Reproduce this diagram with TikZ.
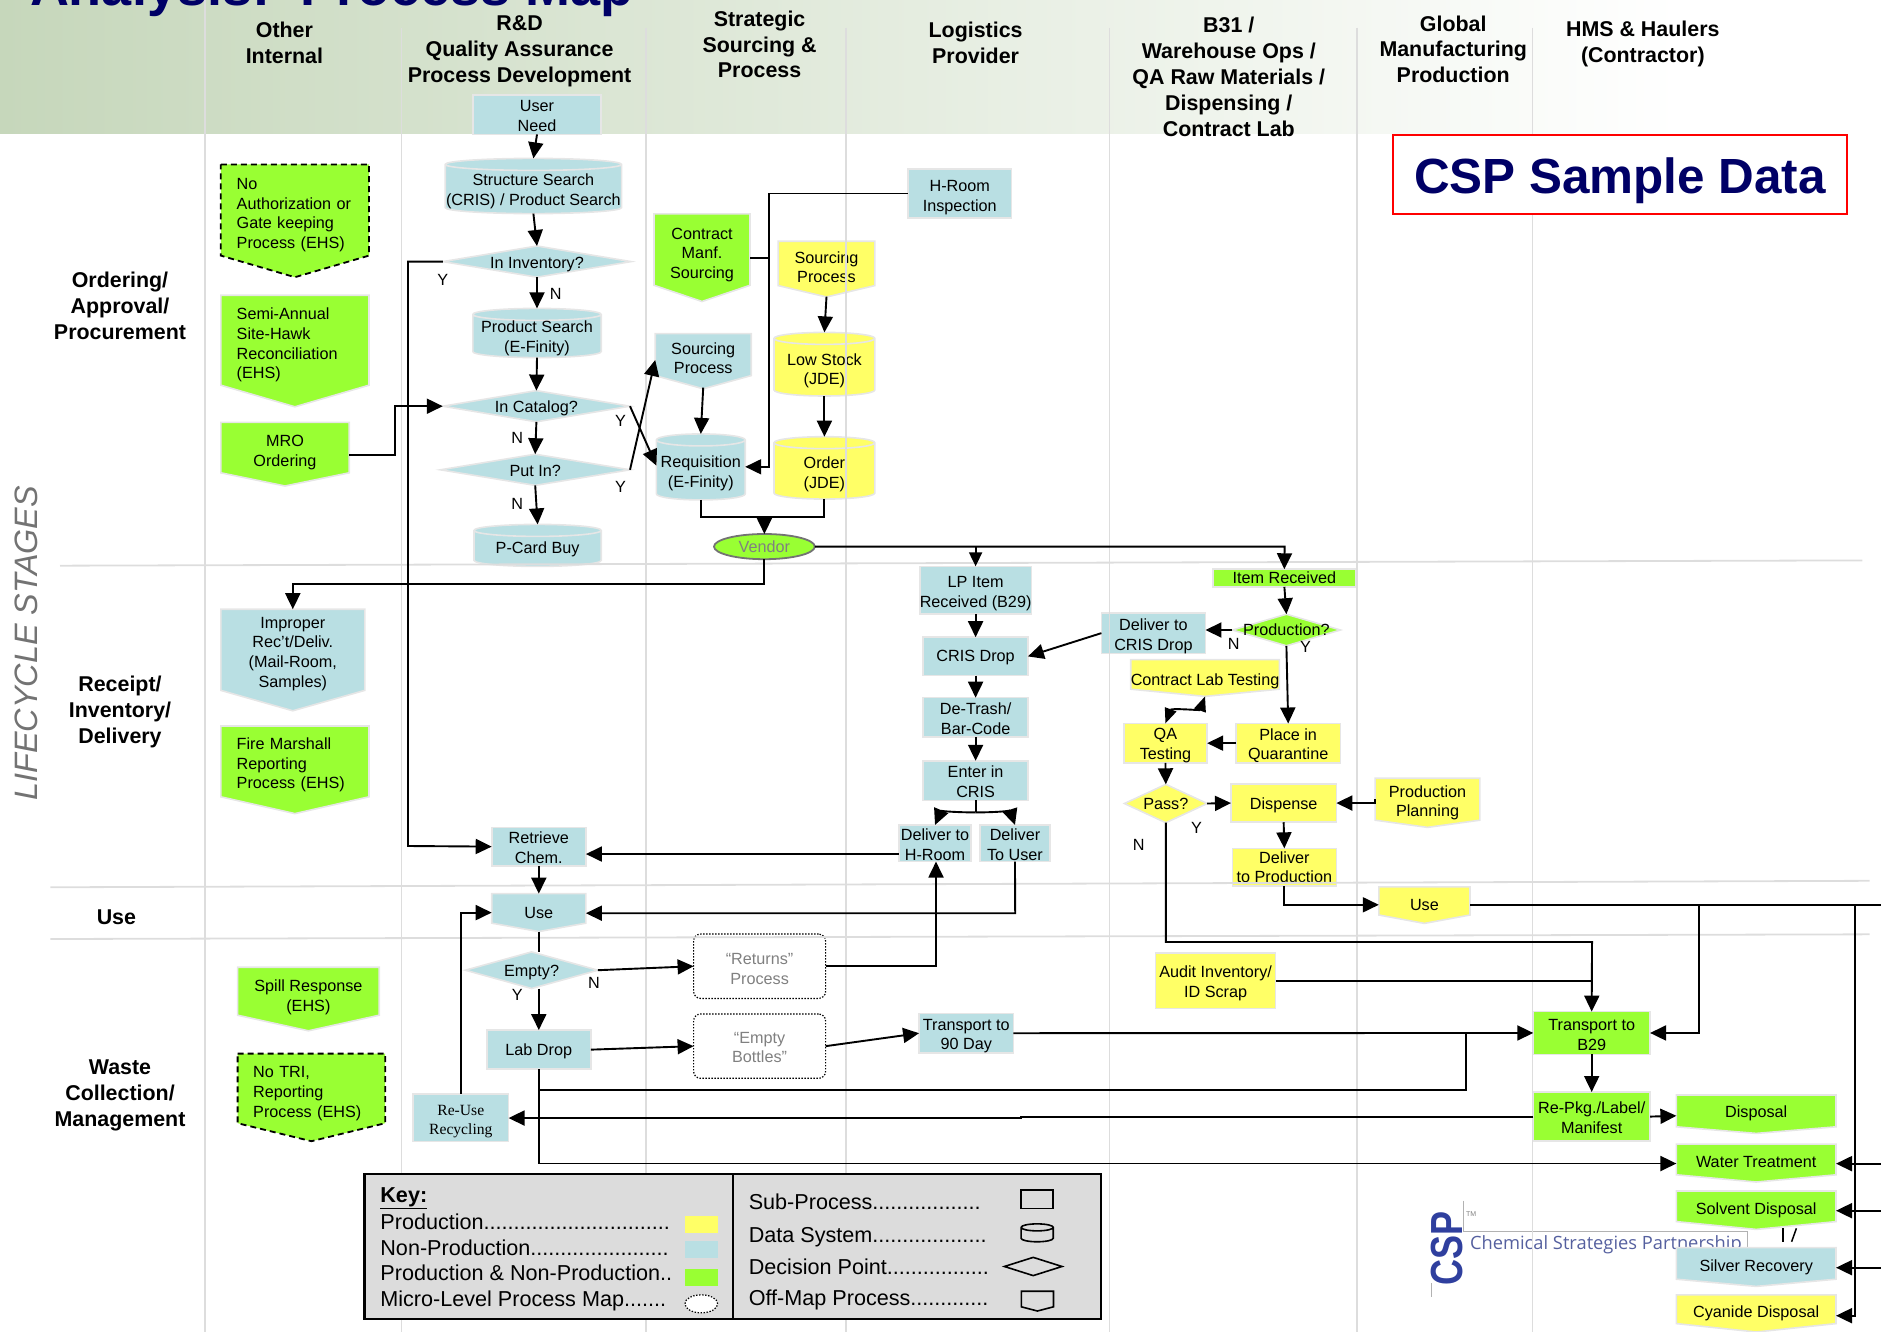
\documentclass[tikz,border=0pt]{standalone}
\usepackage{fontspec}
\setmainfont{Liberation Sans}
\newfontfamily\serifbox{Liberation Serif}
\newfontfamily\logofont{Open Sans}
\usetikzlibrary{arrows.meta,shapes.geometric}
\definecolor{npblue}{HTML}{B9DFE3}
\definecolor{pgreen}{HTML}{99FF33}
\definecolor{pyellow}{HTML}{FFFF66}
\definecolor{rimgray}{HTML}{E6E6E6}
\definecolor{gridgray}{HTML}{DDDDDD}
\definecolor{headgreen}{HTML}{C6D7BB}
\definecolor{titlenavy}{HTML}{000066}
\definecolor{keygray}{HTML}{DCDCDC}
\definecolor{logoblue}{HTML}{2F3F9E}
\definecolor{logotext}{HTML}{55609F}
\newcommand\boxfont{\fontsize{16.2}{19.6}\selectfont}
\newcommand\headfont{\bfseries\fontsize{21.4}{25.8}\selectfont}
\newcommand\keyfont{\fontsize{21.6}{25}\selectfont}
\newcommand\shr[1]{\pgfmathsetlengthmacro\shh{11.8+2.4*#1}\rule{0pt}{\shh}}
\makeatletter
\def\offtip{12pt}
\def\cylry{6pt}
\pgfdeclareshape{offpage}{%
  \inheritsavedanchors[from=rectangle]%
  \inheritanchorborder[from=rectangle]%
  \inheritanchor[from=rectangle]{center}%
  \inheritanchor[from=rectangle]{north}%
  \inheritanchor[from=rectangle]{south}%
  \inheritanchor[from=rectangle]{east}%
  \inheritanchor[from=rectangle]{west}%
  \backgroundpath{%
    \southwest \edef\fxa{\the\pgf@x}\edef\fya{\the\pgf@y}%
    \northeast \edef\fxb{\the\pgf@x}\edef\fyb{\the\pgf@y}%
    \pgfmathsetlengthmacro\fxm{(\fxa+\fxb)/2}%
    \pgfmathsetlengthmacro\fyt{\fya-\offtip}%
    \pgfpathmoveto{\pgfqpoint{\fxa}{\fyb}}%
    \pgfpathlineto{\pgfqpoint{\fxb}{\fyb}}%
    \pgfpathlineto{\pgfqpoint{\fxb}{\fya}}%
    \pgfpathlineto{\pgfqpoint{\fxm}{\fyt}}%
    \pgfpathlineto{\pgfqpoint{\fxa}{\fya}}%
    \pgfpathclose
  }%
}
\pgfdeclareshape{flowdia}{%
  \inheritsavedanchors[from=rectangle]%
  \inheritanchorborder[from=rectangle]%
  \inheritanchor[from=rectangle]{center}%
  \inheritanchor[from=rectangle]{north}%
  \inheritanchor[from=rectangle]{south}%
  \inheritanchor[from=rectangle]{east}%
  \inheritanchor[from=rectangle]{west}%
  \backgroundpath{%
    \southwest \edef\fxa{\the\pgf@x}\edef\fya{\the\pgf@y}%
    \northeast \edef\fxb{\the\pgf@x}\edef\fyb{\the\pgf@y}%
    \pgfmathsetlengthmacro\fxm{(\fxa+\fxb)/2}%
    \pgfmathsetlengthmacro\fym{(\fya+\fyb)/2}%
    \pgfpathmoveto{\pgfqpoint{\fxa}{\fym}}%
    \pgfpathlineto{\pgfqpoint{\fxm}{\fyb}}%
    \pgfpathlineto{\pgfqpoint{\fxb}{\fym}}%
    \pgfpathlineto{\pgfqpoint{\fxm}{\fya}}%
    \pgfpathclose
  }%
}
\pgfdeclareshape{datacyl}{%
  \inheritsavedanchors[from=rectangle]%
  \inheritanchorborder[from=rectangle]%
  \inheritanchor[from=rectangle]{center}%
  \inheritanchor[from=rectangle]{north}%
  \inheritanchor[from=rectangle]{south}%
  \inheritanchor[from=rectangle]{east}%
  \inheritanchor[from=rectangle]{west}%
  \anchor{top}{\northeast \pgf@ya=\pgf@y \southwest \pgf@xa=\pgf@x \northeast
    \pgf@x=.5\pgf@x \advance\pgf@x by .5\pgf@xa \advance\pgf@y by 6pt}%
  \backgroundpath{%
    \southwest \edef\fxa{\the\pgf@x}\edef\fya{\the\pgf@y}%
    \northeast \edef\fxb{\the\pgf@x}\edef\fyb{\the\pgf@y}%
    \pgfmathsetlengthmacro\fxm{(\fxa+\fxb)/2}%
    \pgfmathsetlengthmacro\fdx{(\fxb-\fxa)*0.27615}%
    \pgfmathsetlengthmacro\fdy{\cylry*0.5523}%
    \pgfmathsetlengthmacro\fyu{\fyb+\cylry}%
    \pgfmathsetlengthmacro\fyd{\fyb-\cylry}%
    \pgfmathsetlengthmacro\fyc{\fya+\cylry}%
    \pgfmathsetlengthmacro\fxl{\fxm-\fdx}%
    \pgfmathsetlengthmacro\fxr{\fxm+\fdx}%
    \pgfmathsetlengthmacro\fyua{\fyb+\fdy}%
    \pgfmathsetlengthmacro\fyda{\fyb-\fdy}%
    \pgfmathsetlengthmacro\fyca{\fyc-\fdy}%
    \pgfpathmoveto{\pgfqpoint{\fxa}{\fyb}}%
    \pgfpathcurveto{\pgfqpoint{\fxa}{\fyua}}{\pgfqpoint{\fxl}{\fyu}}{\pgfqpoint{\fxm}{\fyu}}%
    \pgfpathcurveto{\pgfqpoint{\fxr}{\fyu}}{\pgfqpoint{\fxb}{\fyua}}{\pgfqpoint{\fxb}{\fyb}}%
    \pgfpathlineto{\pgfqpoint{\fxb}{\fyc}}%
    \pgfpathcurveto{\pgfqpoint{\fxb}{\fyca}}{\pgfqpoint{\fxr}{\fya}}{\pgfqpoint{\fxm}{\fya}}%
    \pgfpathcurveto{\pgfqpoint{\fxl}{\fya}}{\pgfqpoint{\fxa}{\fyca}}{\pgfqpoint{\fxa}{\fyc}}%
    \pgfpathclose
    \pgfpathmoveto{\pgfqpoint{\fxb}{\fyb}}%
    \pgfpathcurveto{\pgfqpoint{\fxb}{\fyda}}{\pgfqpoint{\fxr}{\fyd}}{\pgfqpoint{\fxm}{\fyd}}%
    \pgfpathcurveto{\pgfqpoint{\fxl}{\fyd}}{\pgfqpoint{\fxa}{\fyda}}{\pgfqpoint{\fxa}{\fyb}}%
  }%
}
\makeatother
\tikzset{
  every node/.style={inner sep=0pt,outer sep=0pt,align=center,font=\boxfont,text=black},
  wh/.style 2 args={minimum width=#1*1.2pt,minimum height=#2*1.2pt},
  tiplen/.code={\pgfmathsetlengthmacro\offtip{#1*1.2pt}},
  caprad/.code={\def\cylry{#1}},
  sh/.code={\pgfmathsetlengthmacro\shh{11.8+2.4*#1}\tikzset{execute at begin node={\rule{0pt}{\shh}}}},
  rim/.style={draw=rimgray,line width=1.6pt},
  np/.style={rim,fill=npblue},
  pg/.style={rim,fill=pgreen},
  py/.style={rim,fill=pyellow},
  proc/.style={shape=rectangle},
  off/.style={shape=offpage},
  dia/.style={shape=flowdia},
  cyl/.style={shape=datacyl},
  dashrim/.style={draw=black,line width=1.8pt,dash pattern=on 6pt off 4pt},
  lt/.style={align=left,text width=#1*1.2pt,inner xsep=15.6pt},
  micro/.style={shape=rectangle,rounded corners=7pt,draw=black,line width=1.2pt,dash pattern=on 1.4pt off 1.6pt,fill=white,text=black!50},
  hdr/.style={font=\headfont,align=center},
  grid/.style={draw=gridgray,line width=1.8pt},
  arr/.style={-{Triangle[length=16pt,width=15pt]},line width=1.9pt,black},
  arrb/.style={{Triangle[length=15pt,width=12pt]}-{Triangle[length=15pt,width=12pt]},line width=1.9pt,black},
  link/.style={line width=1.9pt,black},
  kl/.style={font=\keyfont,anchor=west,align=left},
  icon/.style={draw=black,line width=1.6pt},
}
\begin{document}
\begin{tikzpicture}[x=1.2pt,y=-1.2pt]
\useasboundingbox (0,0) rectangle (1567.5,1110);
% header band
\shade[left color=headgreen,right color=white] (0,0) rectangle (1400,111);
\node[font=\bfseries\fontsize{54}{60}\selectfont,text=titlenavy,anchor=base west] (title) at (25,4.5) {Analysis:\ \ Process Map};
% column headings
\node[hdr] (hother) at (237,36) {Other\\Internal};
\node[hdr] (hrd) at (433,43) {R\&D\\Quality Assurance\\Process Development};
\node[hdr] (hstrat) at (633,37) {Strategic\\Sourcing \&\\Process};
\node[hdr] (hlog) at (813,36) {Logistics\\Provider};
\node[hdr] (hb31) at (1024,64) {B31 /\\Warehouse Ops /\\QA Raw Materials /\\Dispensing /\\Contract Lab};
\node[hdr] (hglob) at (1211,41) {Global\\Manufacturing\\Production};
\node[hdr] (hhms) at (1369,36.5) {HMS \& Haulers\\(Contractor)};
% row headings
\node[font=\itshape\fontsize{32.4}{36}\selectfont,text=black!55,rotate=90] (stages) at (22,536) {LIFECYCLE STAGES};
\node[hdr] (rorder) at (100,255) {Ordering/\\Approval/\\Procurement};
\node[hdr] (rreceipt) at (100,593.5) {Receipt/\\Inventory/\\Delivery};
\node[hdr] (ruse) at (97,764) {Use};
\node[hdr] (rwaste) at (100,913) {Waste\\Collection/\\Management};
% logo
\draw[draw=black!30,line width=.8pt] (1219.6,1000.6) -- (1219.6,1026.4) -- (1456,1026.4) -- (1456,1042);
\draw[draw=black!30,line width=.8pt] (1192.6,1069) -- (1192.6,1080.6);
\node[rotate=90,font=\bfseries\fontsize{36}{40}\selectfont,text=logoblue] (logocsp) at (1206,1040) {\scalebox{1}[1.25]{CSP}};
\node[font=\fontsize{7}{8}\selectfont,text=black!50] (logotm) at (1226,1011.5) {TM};
\node[font=\logofont\fontsize{18.3}{22}\selectfont,text=logotext,anchor=west] (logotxt) at (1225,1037.5) {Chemical Strategies Partnership};
% column: R&D
\node[proc,np,wh={107}{33}] (need) at (447.5,95.5) {\shr{1}User\\Need};
\node[cyl,np,wh={147}{41}] (struct) at (444.5,157.5) {\shr{2}Structure Search\\(CRIS) / Product Search};
\node[dia,np,sh=2,wh={157}{26}] (inv) at (447.5,218) {In Inventory?};
\node[cyl,np,wh={107}{36}] (psearch) at (447.5,280) {\shr{2}Product Search\\(E-Finity)};
\node[dia,np,sh=2,wh={156}{26}] (cat) at (447,338.5) {In Catalog?};
\node[dia,np,sh=1,wh={158}{26}] (putin) at (446,391.5) {Put In?};
\node[cyl,np,sh=1,wh={106}{30}] (pcard) at (448,457) {P-Card Buy};
% column: sourcing
\node[off,pg,wh={80}{59.5},tiplen=13.5] (cmanf) at (585,208) {\shr{4}Contract\\Manf.\\Sourcing};
\node[off,py,wh={80.5}{37},tiplen=9.5] (srcy) at (688.75,219.5) {\shr{3}Sourcing\\Process};
\node[proc,np,wh={86.5}{40.5}] (hinsp) at (799.75,161.25) {\shr{3}H-Room\\Inspection};
\node[off,np,wh={80}{35},tiplen=11] (srcb) at (586,295.5) {\shr{3}Sourcing\\Process};
\node[cyl,py,wh={84}{48}] (low) at (687,306) {\shr{3}Low Stock\\(JDE)};
\node[cyl,np,wh={74}{50}] (req) at (584,391.6) {\shr{3}Requisition\\(E-Finity)};
\node[cyl,py,wh={84}{47}] (order) at (687,392.4) {\shr{3}Order\\(JDE)};
\node[shape=ellipse,draw=black!55,line width=1.8pt,fill=pgreen,text=black!50,wh={84}{21}] (vendor) at (637,455.5) {Vendor};
% column: other internal
\node[off,fill=pgreen,dashrim,sh=4,wh={123.5}{76},tiplen=18,lt=97] (noauth) at (245.75,175) {No\\Authorization or\\Gate keeping\\Process (EHS)};
\node[off,pg,sh=4,wh={123.5}{75},tiplen=18,lt=97] (semi) at (245.75,283.5) {Semi-Annual\\Site-Hawk\\Reconciliation\\(EHS)};
\node[off,pg,wh={107}{42},tiplen=11] (mro) at (237.5,373) {\shr{4}MRO\\Ordering};
\node[off,np,wh={120}{67},tiplen=17] (improper) at (244,541.5) {\shr{3}Improper\\Rec't/Deliv.\\(Mail-Room,\\Samples)};
\node[off,pg,sh=3,wh={123.5}{59},tiplen=14,lt=97] (fire) at (245.75,634.5) {Fire Marshall\\Reporting\\Process (EHS)};
\node[off,pg,wh={118}{40},tiplen=13] (spill) at (257,826) {\shr{5}Spill Response\\(EHS)};
\node[off,fill=pgreen,dashrim,sh=4,wh={123}{58},tiplen=15,lt=97] (notri) at (259.5,907) {No TRI,\\Reporting\\Process (EHS)};
% use and waste, R&D column
\node[proc,np,wh={78.5}{32}] (retrieve) at (449,705.5) {\shr{1}Retrieve\\Chem.};
\node[off,np,sh=3.5,wh={78.5}{24.6},tiplen=7] (useb) at (449,757) {Use};
\node[dia,np,sh=2,wh={110.5}{30.5}] (empty) at (443,808.5) {Empty?};
\node[proc,np,sh=1,wh={86.7}{32.6}] (lab) at (449,874.7) {Lab Drop};
\node[proc,np,wh={79.6}{39.7},font=\serifbox\fontsize{15.6}{19.6}\selectfont] (reuse) at (384,931.5) {\shr{2.5}Re-Use\\Recycling};
\node[micro,wh={110}{53.6}] (returns) at (633,805.2) {\shr{2}“Returns”\\Process};
\node[micro,wh={110}{53.6}] (bottles) at (633,871.8) {\shr{1}“Empty\\Bottles”};
% column: logistics
\node[proc,np,wh={87.2}{39.7}] (lp) at (813,491.8) {\shr{2.5}LP Item\\Received (B29)};
\node[proc,np,sh=1,wh={87.2}{32}] (drop) at (813,547) {CRIS Drop};
\node[proc,np,wh={87.2}{32.6}] (trash) at (813,597.7) {\shr{1}De-Trash/\\Bar-Code};
\node[proc,np,wh={87.2}{33}] (enter) at (813,650.5) {\shr{1}Enter in\\CRIS};
\node[proc,np,wh={60.4}{30.5}] (dh) at (779.2,702.7) {\shr{1}Deliver to\\H-Room};
\node[proc,np,wh={58}{30.5}] (du) at (845.8,702.7) {\shr{1}Deliver\\To User};
\node[proc,np,wh={78.6}{32}] (t90) at (805.2,861) {\shr{2}Transport to\\90 Day};
% column: B31
\node[proc,pg,wh={118.6}{14.6}] (item) at (1070.3,481.7) {Item Received};
\node[dia,pg,wh={90}{26.3}] (prodq) at (1072,525) {Production?};
\node[proc,np,wh={86.7}{32}] (dcd) at (961.2,527.6) {\shr{2.5}Deliver to\\CRIS Drop};
\node[off,py,sh=6,wh={119.5}{20},tiplen=6] (clab) at (1004.2,562) {Contract Lab Testing};
\node[proc,py,wh={69.5}{32.6}] (qa) at (971.2,619.3) {\shr{2}QA\\Testing};
\node[proc,py,wh={87}{32.6}] (quar) at (1073.5,619.3) {\shr{2}Place in\\Quarantine};
\node[dia,py,wh={69}{32}] (pass) at (971.5,669.6) {Pass?};
\node[proc,py,sh=2,wh={87.8}{32}] (disp) at (1069.7,669.2) {Dispense};
\node[off,py,wh={87.3}{26},tiplen=6] (plan) at (1189.6,666) {\shr{3}Production\\Planning};
\node[proc,py,wh={86.6}{31.3}] (dprod) at (1070.3,722.6) {Deliver\\to Production};
\node[off,py,sh=3,wh={76}{23.5},tiplen=7] (usey) at (1187,750.75) {Use};
\node[proc,py,wh={100}{46}] (audit) at (1013,817.4) {\shr{2}Audit Inventory/\\ID Scrap};
% column: haulers
\node[proc,pg,wh={97.3}{35.6}] (tb29) at (1326.4,860.8) {\shr{1.5}Transport to\\B29};
\node[proc,pg,wh={97.3}{41}] (repkg) at (1326.4,930.5) {\shr{1}Re-Pkg./Label/\\Manifest};
\node[off,pg,sh=2,wh={133}{26.5},tiplen=5.5] (disposal) at (1463.5,925.75) {Disposal};
\node[off,pg,sh=2,wh={133}{25.6},tiplen=6] (water) at (1463.5,966.2) {Water Treatment};
\node[off,pg,sh=3,wh={133}{25.5},tiplen=6.5] (solvent) at (1463.5,1005.25) {Solvent Disposal};
\node[off,np,sh=3,wh={133}{26.3},tiplen=6] (silver) at (1463.5,1052.85) {Silver Recovery};
\node[off,py,sh=3,wh={133}{24},tiplen=7] (cyanide) at (1463.5,1091) {Cyanide Disposal};
\draw[link,line width=1.5pt] (1486,1023.6) -- (1486,1034.8);
\draw[link,line width=1.5pt] (1497,1023.6) -- (1493,1034.8);
% swimlane lines
\draw[grid] (170.7,0) -- (170.7,1110);
\foreach \gx in {334.5,538.5,705,924.5,1131,1277}{\draw[grid] (\gx,23) -- (\gx,1110);}
\draw[grid] (50,471.4) -- (1552,467);
\draw[grid] (42,739.4) -- (1558,734);
\draw[grid] (42,782.5) -- (1558,778.6);
% CSP box
\node[shape=rectangle,draw=red,line width=2pt,fill=white,sh=15,wh={378}{66},font=\bfseries\fontsize{49.4}{52}\selectfont,text=titlenavy] (csp) at (1350,145.5) {CSP Sample Data};
% labels
\node (l1) at (369,233) {Y};
\node (l2) at (463,245) {N};
\node (l3) at (431,365) {N};
\node (l4) at (431,420) {N};
\node (l5) at (517,351) {Y};
\node (l6) at (517,406) {Y};
\node (l7) at (431,829) {Y};
\node (l8) at (495,819) {N};
\node (l9) at (1028,537) {N};
\node (l10) at (1088,539) {Y};
\node (l11) at (997,690) {Y};
\node (l12) at (949,704) {N};
% named free ends
\coordinate (split) at (813,677);
\coordinate (vj) at (637,431);
\coordinate (edgeu) at (1567.5,754);
\coordinate (edgew) at (1567.5,969.7);
\coordinate (edges) at (1567.5,1008.9);
\coordinate (edgesi) at (1567.5,1056.4);
% connectors
\draw[arr] (need.south) -- (struct.top);
\draw[arr] (struct.south) -- (inv.north);
\draw[arr] (inv.south) -- (psearch.top);
\draw[arr] (psearch.south) -- (cat.north);
\draw[arr] (cat.south) -- (putin.north);
\draw[arr] (putin.south) -- (pcard.top);
\draw[arr] (inv.west) -- (340,218) -- (340,705) -- (retrieve.west);
\draw[arr] (mro.east |- 0,379) -- (329,379) -- (329,338.5) -- (cat.west);
\draw[arr] (putin.east) -- (srcb.west |- 0,300);
\draw[arr] (cat.east) -- (req.west |- 0,388);
\draw[arr] (srcb.south |- 0,323) -- (req.top);
\draw[link] (cmanf.east |- 0,215) -- (641,215);
\draw[arr] (hinsp.west) -- (641,161.25) -- (641,389) -- (req.east |- 0,389);
\draw[arr] ([yshift=-11pt]srcy.south) -- (low.top);
\draw[arr] (low.south) -- (order.top);
\draw[link] (req.south) -- (584,431) -- (687,431) -- (order.south);
\draw[arr] (vj) -- (vendor.north);
\draw[arr] (vendor.east) -- (1070.5,455.5) -- (item.north);
\draw[arr,-{Triangle[length=14pt,width=13pt]}] (813,455.5) -- (lp.north);
\draw[arr] (vendor.south) -- (637,486.5) -- (244,486.5) -- (improper.north);
\draw[arr] (lp.south) -- (drop.north);
\draw[arr] (drop.south) -- (trash.north);
\draw[arr] (trash.south) -- (enter.north);
\draw[link] (enter.south) -- (split);
\draw[arr] (split) .. controls (798,677) and (784,676) .. (dh.north);
\draw[arr] (split) .. controls (828,677) and (842,676) .. (du.north);
\draw[arr] (dh.west |- 0,711.7) -- (retrieve.east |- 0,711.7);
\draw[arr] (retrieve.south) -- (useb.north);
\draw[arr] (du.south) -- (846,761) -- (useb.east |- 0,761);
\draw[link] ([yshift=-8.4pt]useb.south) -- (empty.north -| 449,0);
\draw[arr] (empty.south -| 449,0) -- (lab.north);
\draw[arr] (empty.east) -- (returns.west);
\draw[arr] (returns.east) -- (780,805.2) -- (dh.south -| 780,0);
\draw[arr] (lab.east) -- (bottles.west);
\draw[arr] (bottles.east) -- (t90.west);
\draw[arr] (t90.east) -- (tb29.west);
\draw[arr] (lab.south) -- (449,969.6) -- (water.west |- 0,969.6);
\draw[link] (449,908.6) -- (1221.7,908.6) -- (1221.7,861);
\draw[arr] (repkg.west) -- (851,930.5) -- (851,931.7) -- (reuse.east |- 0,931.7);
\draw[arr] (reuse.north) -- (384,760.5) -- (useb.west |- 0,760.5);
\draw[arr] (repkg.east) -- (disposal.west |- 0,929.8);
\draw[arr] (tb29.south) -- (repkg.north);
\draw[arr] (pass.south) -- (971.5,785) -- (1326.7,785) -- (tb29.north);
\draw[link] (audit.east) -- (1326.7,817.4);
\draw[link] (usey.east |- edgeu) -- (edgeu);
\draw[arr] (1416,754) -- (1416,860.8) -- (tb29.east);
\draw[arr] (1545.5,754) -- (1545.5,1096.4) -- (cyanide.east |- 0,1096.4);
\draw[arr] (edgew) -- (water.east |- edgew);
\draw[arr] (edges) -- (solvent.east |- edges);
\draw[arr] (edgesi) -- (silver.east |- edgesi);
\draw[arr] (dcd.west) -- (drop.east);
\draw[arr] (prodq.west) -- (dcd.east |- prodq.west);
\draw[arr] (item.south) -- (prodq.north);
\draw[arr] (prodq.south) -- (quar.north);
\draw[arr] (quar.west) -- (qa.east);
\draw[arrb] (qa.north) .. controls (976,590) and (1000,592) .. ([yshift=-7.2pt]clab.south);
\draw[arr] (qa.south) -- (pass.north);
\draw[arr] (pass.east) -- (disp.west);
\draw[arr] (plan.east -| 1146,0) -- (1146,669.2) -- (disp.east);
\draw[arr] (disp.south) -- (dprod.north);
\draw[arr] (dprod.south) -- (1070.3,754) -- (usey.west |- 0,754);
% key
\node[shape=rectangle,draw=black,line width=2.4pt,fill=keygray,wh={614}{121}] (key) at (610.6,1038.8) {};
\draw[line width=2pt] (key.north) -- (key.south);
\node[kl,font=\bfseries\fontsize{21.6}{25}\selectfont] (k0) at (317,998.5) {\underline{Key:}};
\node[kl] (k1) at (317,1018) {Production...............................};
\node[kl] (k2) at (317,1039.5) {Non-Production.......................};
\node[kl] (k3) at (317,1061) {Production \& Non-Production..};
\node[kl] (k4) at (317,1084) {Micro-Level Process Map.......};
\node[proc,fill=pyellow,wh={27.3}{14.4}] (s1) at (584.4,1020.6) {};
\node[proc,fill=npblue,wh={27.3}{14.6}] (s2) at (584.4,1041.3) {};
\node[proc,fill=pgreen,wh={27.3}{14.2}] (s3) at (584.4,1064.6) {};
\node[shape=ellipse,draw=black,line width=1.2pt,dash pattern=on 1.4pt off 1.6pt,fill=white,wh={27.3}{15}] (s4) at (584.4,1086.5) {};
\node[kl] (r1) at (624,1001.5) {Sub-Process..................};
\node[kl] (r2) at (624,1031) {Data System...................};
\node[kl] (r3) at (624,1056) {Decision Point.................};
\node[kl] (r4) at (624,1083) {Off-Map Process.............};
\node[proc,icon,wh={26.8}{15.3}] (i1) at (864.3,999.4) {};
\node[cyl,icon,caprad=3.5pt,wh={26.8}{12}] (i2) at (864.3,1028.8) {};
\node[dia,icon,wh={48}{15.2}] (i3) at (861,1055.4) {};
\node[off,icon,wh={26.8}{13},tiplen=3.5] (i4) at (864.5,1082.5) {};
\end{tikzpicture}
\end{document}
